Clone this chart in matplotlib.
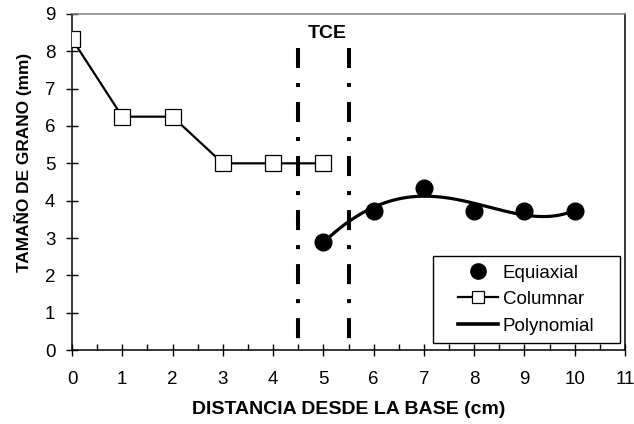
import numpy as np
import matplotlib
matplotlib.use("Agg")
import matplotlib.pyplot as plt
from matplotlib.ticker import MultipleLocator
from matplotlib.lines import Line2D
from matplotlib.patches import Rectangle

plt.rcParams['font.family'] = ['Liberation Sans', 'DejaVu Sans']
plt.rcParams['lines.scale_dashes'] = False

# Data
col_x = [0, 1, 2, 3, 4, 5]
col_y = [8.33, 6.25, 6.25, 5.0, 5.0, 5.0]
eq_x = [5, 6, 7, 8, 9, 10]
eq_y = [2.9, 3.72, 4.33, 3.72, 3.72, 3.72]
tce_x = [4.5, 5.5]
poly_order = 4

FS = 13.5

fig = plt.figure(figsize=(6.34, 4.24), dpi=100)
ax = fig.add_axes([0.1136, 0.1745, 0.8722, 0.7925])

# TCE vertical lines
for xv in tce_x:
    ax.plot([xv, xv], [8.1, 0], color='black', lw=2.9,
            linestyle=(0, (14.4, 10.8, 2.9, 10.8)), solid_capstyle='butt',
            dash_capstyle='butt', zorder=2)

ax.plot(eq_x, eq_y, linestyle='none', marker='o', color='black',
        markersize=12, zorder=4)
ax.plot(col_x, col_y, color='black', lw=1.6, marker='s', markersize=12,
        markerfacecolor='white', markeredgecolor='black', markeredgewidth=0.9,
        zorder=3)

coef = np.polyfit(eq_x, eq_y, poly_order)
xs = np.linspace(min(eq_x), max(eq_x), 200)
ax.plot(xs, np.polyval(coef, xs), color='black', lw=2.3, zorder=3)

ax.text(5.07, 8.49, 'TCE', fontsize=14, fontweight='bold', ha='center', va='center')

ax.set_xlim(0, 11)
ax.set_ylim(0, 9)
ax.xaxis.set_major_locator(MultipleLocator(1))
ax.xaxis.set_minor_locator(MultipleLocator(0.5))
ax.yaxis.set_major_locator(MultipleLocator(1))
ax.tick_params(axis='both', which='major', direction='inout', length=8, width=1,
               labelsize=FS)
ax.tick_params(axis='x', which='major', pad=11)
ax.tick_params(axis='y', which='major', pad=8)
ax.tick_params(axis='x', which='minor', direction='in', length=4, width=1)
ax.spines['top'].set_color('#808080')
ax.spines['right'].set_color('black')
for s in ax.spines.values():
    s.set_linewidth(1.1)

ax.set_xlabel('DISTANCIA DESDE LA BASE (cm)', fontsize=14, fontweight='bold')
ax.xaxis.set_label_coords(0.5, (350 - 409) / 336)
ax.xaxis.label.set_va('center')
ax.set_ylabel('TAMAÑO DE GRANO (mm)', fontsize=12.4, fontweight='bold')
ax.yaxis.set_label_coords((23 - 72) / 553, (350 - 162.5) / 336)
ax.yaxis.label.set_va('center')

# Legend frame
x0, x1, y0, y1 = 0.652, 0.991, 0.021, 0.280
ax.add_patch(Rectangle((x0, y0), x1 - x0, y1 - y0, transform=ax.transAxes,
                       facecolor='white', edgecolor='black', lw=1.0, zorder=5))
handles = [
    Line2D([], [], linestyle='none', marker='o', color='black', markersize=11),
    Line2D([], [], color='black', lw=1.6, marker='s', markersize=8.5,
           markerfacecolor='white', markeredgecolor='black', markeredgewidth=0.9),
    Line2D([], [], color='black', lw=2.6),
]
labels = ['Equiaxial', 'Columnar', 'Polynomial']
leg = ax.legend(handles, labels, loc='center', bbox_to_anchor=((x0 + x1) / 2, (y0 + y1) / 2),
                borderaxespad=0, fontsize=FS, frameon=False,
                handlelength=2.1, handletextpad=0.27, labelspacing=0.5, borderpad=0)
leg.set_zorder(6)

fig.savefig('out.png', dpi=100)
